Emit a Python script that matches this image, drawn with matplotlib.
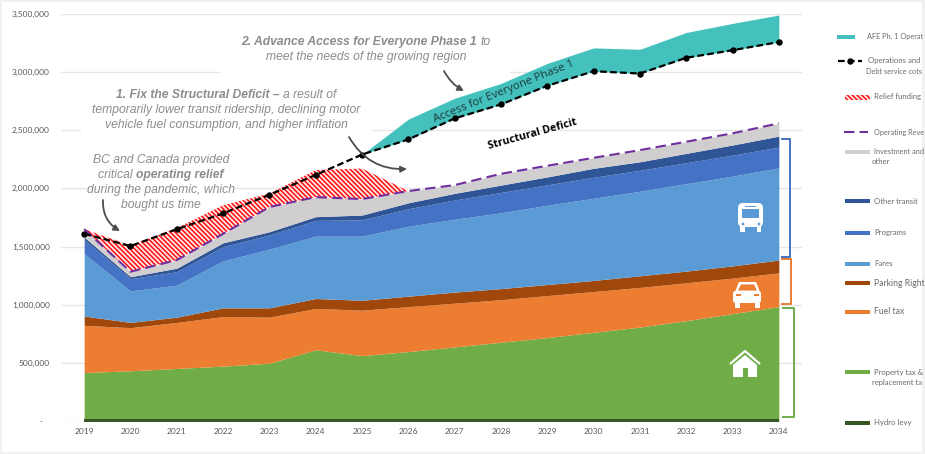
import matplotlib
matplotlib.use("Agg")
from matplotlib import pyplot as plt
from matplotlib.patches import Rectangle, FancyArrowPatch, Polygon, Circle, FancyBboxPatch

years = list(range(2019, 2035))
y_ticks = [0, 500000, 1000000, 1500000, 2000000, 2500000, 3000000, 3500000]
y_labels = ["-   ", "500,000", "1,000,000", "1,500,000", "2,000,000", "2,500,000", "3,000,000", "3,500,000"]

# cumulative tops of the stacked areas
hydro_top = [20000] * 16
property_top = [420000, 435000, 455000, 475000, 500000, 615000, 565000, 600000, 640000, 680000, 720000, 765000, 810000, 865000, 925000, 985000]
fuel_top = [825000, 805000, 850000, 900000, 895000, 970000, 955000, 985000, 1015000, 1045000, 1080000, 1115000, 1150000, 1190000, 1230000, 1275000]
parking_top = [905000, 850000, 895000, 975000, 975000, 1055000, 1040000, 1075000, 1110000, 1140000, 1175000, 1210000, 1250000, 1290000, 1335000, 1385000]
fares_top = [1440000, 1120000, 1170000, 1378000, 1478000, 1590000, 1590000, 1675000, 1735000, 1790000, 1855000, 1915000, 1975000, 2040000, 2105000, 2175000]
programs_top = [1560000, 1225000, 1285000, 1500000, 1600000, 1725000, 1730000, 1825000, 1900000, 1965000, 2030000, 2095000, 2155000, 2220000, 2285000, 2354000]
other_top = [1582000, 1242000, 1315000, 1533000, 1628000, 1757000, 1771000, 1876000, 1957000, 2028000, 2098000, 2172000, 2228000, 2300000, 2372000, 2448000]
revenue = [1650000, 1285000, 1385000, 1610000, 1840000, 1925000, 1908000, 1977000, 2028000, 2125000, 2194000, 2262000, 2328000, 2400000, 2472000, 2558000]
relief_top = [1650000, 1510000, 1660000, 1855000, 1955000, 2157000, 2170000, 1977000]
costs = [1610000, 1505000, 1650000, 1785000, 1945000, 2115000, 2290000, 2420000, 2600000, 2720000, 2880000, 3005000, 2985000, 3120000, 3185000, 3255000]
afe_top = [2290000, 2594000, 2773000, 2900000, 3072000, 3205000, 3193000, 3337000, 3415000, 3487000]

TEAL = "#45c1bd"
HYDRO = "#375623"
PROPERTY = "#70ad47"
FUEL = "#ed7d31"
PARKING = "#a0480c"
FARES = "#5b9bd5"
PROGRAMS = "#4472c4"
OTHER = "#2f5597"
INVEST = "#d0cece"
PURPLE = "#7030a0"
GREY_TEXT = "#8c8c8c"
LEGEND_TEXT = "#6b6b6b"
RELIEF_BG = "#ffe0e0"
RELIEF_HATCH = "\\" * 7
COST_DASH = (3, 1.5)

W, H = 925, 454
UI_FONT = "Lato"
NOTE_FONT = "Liberation Sans"

plt.rcParams["hatch.linewidth"] = 1.0
plt.rcParams["hatch.color"] = "#ff0000"

fig = plt.figure(figsize=(W / 100, H / 100), dpi=100, facecolor="#f1f1f1")
fig.add_artist(Rectangle((2 / W, 2 / H), 920 / W, 450 / H, transform=fig.transFigure, facecolor="white", edgecolor="none", zorder=-5))

ax = fig.add_axes([61 / W, 1 - 421.5 / H, 741 / W, 408 / H], facecolor="none", zorder=1)
# overlay in picture pixels for the notes, icons and the hand made legend
px = fig.add_axes([0, 0, 1, 1], facecolor="none", zorder=2)
px.set_xlim(0, W)
px.set_ylim(H, 0)
px.axis("off")

ax.set_xlim(2018.5, 2034.5)
ax.set_ylim(0, 3500000)
for s in ax.spines.values():
    s.set_visible(False)
ax.set_yticks(y_ticks)
ax.set_yticklabels(y_labels)
ax.set_xticks(years)
ax.tick_params(length=0, labelsize=6, labelcolor="#595959")
ax.tick_params(axis="y", pad=8)
ax.tick_params(axis="x", pad=5)
for lab in ax.get_xticklabels() + ax.get_yticklabels():
    lab.set_fontfamily(UI_FONT)
ax.grid(axis="y", color="#e6e6e6", lw=1, zorder=0)
ax.set_axisbelow(True)

# white text boxes in the original hide parts of the gridlines
for x0, y0, w, h in [(220, 62, 290, 20), (81, 120, 291, 20), (87, 178, 148, 20)]:
    ax.add_patch(Rectangle((x0, y0), w, h, transform=px.transData, facecolor="white", edgecolor="none", zorder=0.8))

ax.fill_between(years, 0, property_top, color=PROPERTY, lw=0, zorder=2)
ax.fill_between(years, 0, hydro_top, color=HYDRO, lw=0, zorder=2.1)
ax.fill_between(years, property_top, fuel_top, color=FUEL, lw=0, zorder=2)
ax.fill_between(years, fuel_top, parking_top, color=PARKING, lw=0, zorder=2)
ax.fill_between(years, parking_top, fares_top, color=FARES, lw=0, zorder=2)
ax.fill_between(years, fares_top, programs_top, color=PROGRAMS, lw=0, zorder=2)
ax.fill_between(years, programs_top, other_top, color=OTHER, lw=0, zorder=2)
ax.fill_between(years, other_top, revenue, color=INVEST, lw=0, zorder=2)
ax.fill_between(years[:8], revenue[:8], relief_top, facecolor=RELIEF_BG, edgecolor="#ff0000", hatch=RELIEF_HATCH, lw=0, zorder=2)
ax.fill_between(years[6:], costs[6:], afe_top, color=TEAL, lw=0, zorder=2)
ax.plot(years, revenue, color=PURPLE, lw=1.5, dashes=(5, 2.5), zorder=3)
ax.plot(years, costs, color="black", lw=1.6, dashes=COST_DASH, marker="o", ms=3.6, zorder=4)


def note_line(x_center, y, pieces, size=8.7):
    # centred line of italic text where some parts are bold
    renderer = fig.canvas.get_renderer()
    items = []
    total = 0
    for txt, bold in pieces:
        t = px.text(0, y, txt, family=NOTE_FONT, style="italic", weight="bold" if bold else "normal",
                    fontsize=size, color=GREY_TEXT, ha="left", va="center")
        w = t.get_window_extent(renderer).width
        items.append((t, w))
        total += w
    x = x_center - total / 2
    for t, w in items:
        t.set_x(x)
        x += w


note_line(366, 42, [("2. Advance Access for Everyone Phase 1 ", True), ("to", False)])
note_line(366, 57, [("meet the needs of the growing region", False)])
note_line(226, 95, [("1. Fix the Structural Deficit \u2013 ", True), ("a result of", False)])
note_line(226, 110, [("temporarily lower transit ridership, declining motor", False)])
note_line(226, 125, [("vehicle fuel consumption, and higher inflation", False)])
note_line(161, 160, [("BC and Canada provided", False)])
note_line(161, 175, [("critical ", False), ("operating relief", True)])
note_line(161, 190, [("during the pandemic, which", False)])
note_line(161, 205, [("bought us time", False)])

px.text(504, 92, "Access for Everyone Phase 1", family="Open Sans", fontsize=8.2, color="#1c3a3c", rotation=22,
        ha="center", va="center", rotation_mode="anchor")
px.text(533, 134, "Structural Deficit", family="Open Sans", weight="bold", fontsize=7.7, color="black", rotation=15.5,
        ha="center", va="center", rotation_mode="anchor")

for start, end, rad in [((103, 200), (120, 231), 0.3), ((349, 137), (407, 169), 0.3), ((444, 71), (464, 91), 0.15)]:
    px.add_patch(FancyArrowPatch(start, end, connectionstyle=f"arc3,rad={rad}", arrowstyle="-|>", mutation_scale=9,
                                 color="#4d4d4d", lw=1.3, shrinkA=0, shrinkB=0))

# brackets right of the chart
px.plot([782, 790, 790, 782], [139, 139, 257, 257], color=PROGRAMS, lw=1.4)
px.plot([782, 791, 791, 782], [259, 259, 304, 304], color=FUEL, lw=1.4)
px.plot([783, 794, 794, 783], [308, 308, 417, 417], color=PROPERTY, lw=1.4)

# bus icon
px.add_patch(FancyBboxPatch((738, 203), 25, 24, boxstyle="round,pad=0,rounding_size=5", facecolor="white", edgecolor="none"))
px.add_patch(Rectangle((742, 209), 17, 9, facecolor=FARES, edgecolor="none"))
px.add_patch(Rectangle((745, 205.5), 11, 1.3, facecolor=FARES, edgecolor="none"))
px.add_patch(Circle((743, 224), 1.4, facecolor=FARES, edgecolor="none"))
px.add_patch(Circle((759, 224), 1.4, facecolor=FARES, edgecolor="none"))
px.add_patch(Rectangle((740, 226), 4.5, 6, facecolor="white", edgecolor="none"))
px.add_patch(Rectangle((756.5, 226), 4.5, 6, facecolor="white", edgecolor="none"))

# car icon
px.add_patch(Polygon([(735, 292), (739, 282), (756, 282), (760, 292)], facecolor="white", edgecolor="none"))
px.add_patch(Polygon([(738, 290.5), (741, 284.5), (754, 284.5), (757, 290.5)], facecolor=FUEL, edgecolor="none"))
px.add_patch(FancyBboxPatch((733, 291), 28, 12, boxstyle="round,pad=0,rounding_size=2.5", facecolor="white", edgecolor="none"))
px.add_patch(Rectangle((735, 303), 4.5, 4.5, facecolor="white", edgecolor="none"))
px.add_patch(Rectangle((755, 303), 4.5, 4.5, facecolor="white", edgecolor="none"))
px.add_patch(Rectangle((736, 293.5), 4.5, 2.2, facecolor=FUEL, edgecolor="none"))
px.add_patch(Rectangle((754, 293.5), 4.5, 2.2, facecolor=FUEL, edgecolor="none"))

# house icon
px.plot([730, 745, 760], [364, 351, 364], color="white", lw=1.6, solid_capstyle="butt")
px.add_patch(Polygon([(733, 365), (745, 355), (757, 365), (757, 377), (748, 377), (748, 368), (743, 368), (743, 377), (733, 377)],
                     facecolor="white", edgecolor="none"))


def legend_text(x, y, txt, size=5.6):
    px.text(x, y, txt, family=UI_FONT, fontsize=size, color=LEGEND_TEXT, ha="left", va="center")


def legend_swatch(y, color, x0=845, x1=870, h=4.5):
    px.add_patch(Rectangle((x0, y - h / 2), x1 - x0, h, facecolor=color, edgecolor="none"))


# the legend labels run off the frame in the original, so only the visible part is written
legend_swatch(37, TEAL, 837, 855)
legend_text(867, 37, "AFE Ph. 1 Operat", 5.3)
px.plot([838, 862], [61, 61], color="black", lw=1.6, dashes=COST_DASH)
px.plot([850], [61], color="black", marker="o", ms=3.6)
legend_text(868, 61, "Operations and")
legend_text(866, 71, "Debt service cots", 5.3)
px.add_patch(Rectangle((845, 94.5), 25, 5, facecolor=RELIEF_BG, edgecolor="#ff0000", hatch=RELIEF_HATCH, lw=0))
legend_text(874, 97, "Relief funding")
px.plot([844, 868], [132, 132], color=PURPLE, lw=1.5, dashes=(5, 2.5))
legend_text(874, 132, "Operating Reve", 5.2)
legend_swatch(152, INVEST)
legend_text(874, 152, "Investment and", 5.3)
legend_text(872, 162, "other")
legend_swatch(201, OTHER)
legend_text(874, 201, "Other transit")
legend_swatch(233, PROGRAMS)
legend_text(874, 233, "Programs")
legend_swatch(264, FARES)
legend_text(874, 264, "Fares")
legend_swatch(283, PARKING)
legend_text(874, 283, "Parking Right", 6.2)
legend_swatch(312, FUEL)
legend_text(874, 312, "Fuel tax", 6.2)
legend_swatch(372, PROPERTY)
legend_text(874, 372, "Property tax &", 5.5)
legend_text(872, 382, "replacement ta", 5.5)
legend_swatch(423, HYDRO)
legend_text(874, 423, "Hydro levy")

fig.savefig("out.png", dpi=100, facecolor=fig.get_facecolor())
